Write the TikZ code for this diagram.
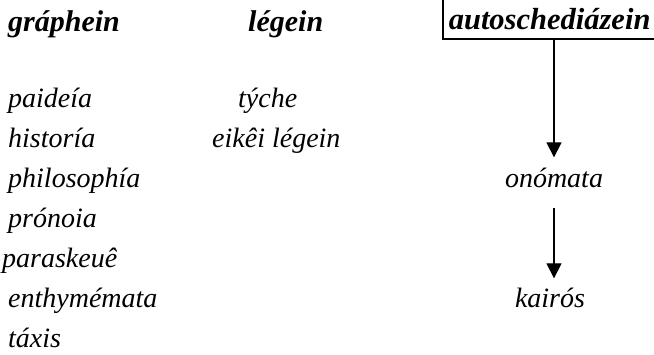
\documentclass[tikz,border=0pt]{standalone}
\usepackage{fontspec}
\setmainfont{Liberation Serif}
\usetikzlibrary{arrows.meta}
\tikzset{
  every node/.style={font=\fontsize{28}{30}\selectfont\itshape, inner sep=0pt},
  head/.style={font=\fontsize{30}{32}\selectfont\bfseries\itshape, anchor=base west},
  item/.style={anchor=base west},
  rnode/.style={anchor=base},
  boxed/.style={font=\fontsize{30.5}{32}\selectfont\bfseries\itshape, draw, line width=1.6pt,
    anchor=base west, inner xsep=6pt, inner ysep=0pt, text width=215pt, align=left,
    text height=45pt, text depth=10pt},
  arr/.style={line width=1.3pt, -{Triangle[width=15pt,length=15pt]}}
}
\begin{document}
\begin{tikzpicture}[x=1pt,y=-1pt]
\clip (0,0) rectangle (654,354);
\node[head] (graphein) at (8,31) {gráphein};
\node[head] (legein) at (248,31) {légein};
\node[boxed] (auto) at (442,29) {autoschediázein};

\node[item] (paideia) at (8,107) {paideía};
\node[item] (historia) at (8,147) {historía};
\node[item] (philosophia) at (8,187) {philosophía};
\node[item] (pronoia) at (8,227) {prónoia};
\node[item] (paraskeue) at (2,267) {paraskeuê};
\node[item] (enthymemata) at (8,307) {enthymémata};
\node[item] (taxis) at (8,347) {táxis};

\node[item] (tyche) at (238,107) {týche};
\node[item] (eikei) at (212,147) {eikêi légein};

\node[rnode] (onomata) at (554,187) {onómata};
\node[rnode] (kairos) at (550,307) {kairós};

\draw[arr, shorten >=10pt] (auto.south -| onomata.north) -- (onomata.north);
\draw[arr, shorten <=21pt, shorten >=9pt] (onomata.south) -- (onomata.south |- kairos.north);
\end{tikzpicture}
\end{document}
